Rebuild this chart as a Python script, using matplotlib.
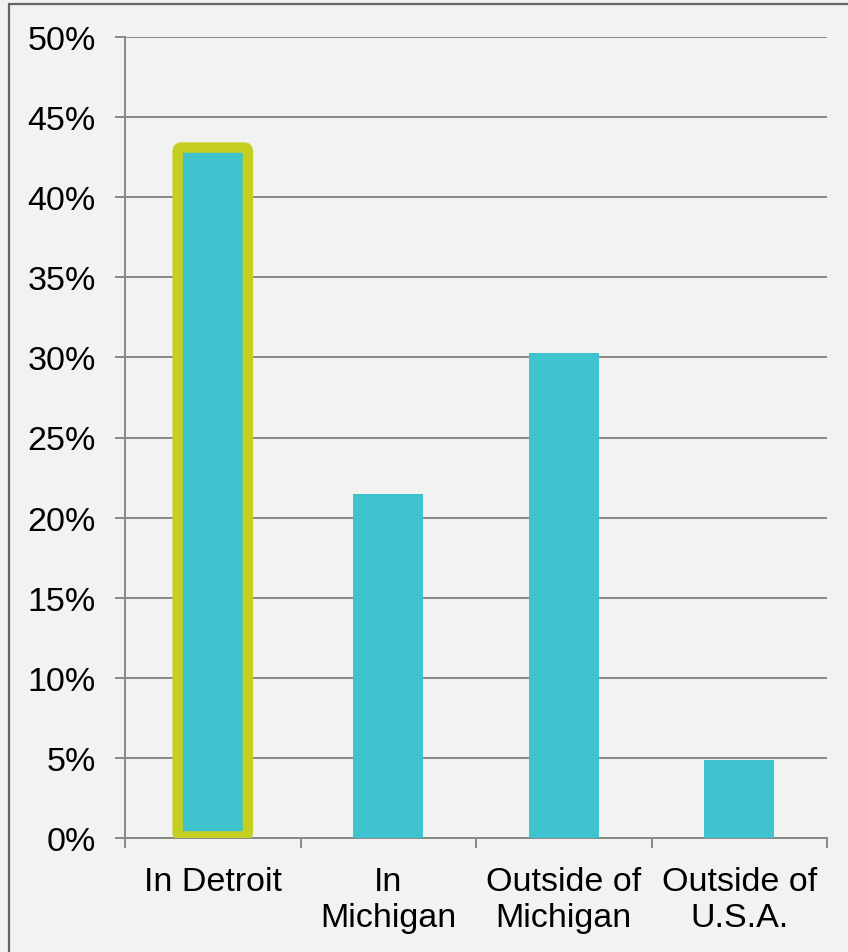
import matplotlib
matplotlib.use("Agg")
import matplotlib.pyplot as plt
from matplotlib.patches import FancyBboxPatch, Rectangle
from matplotlib.ticker import FuncFormatter, MultipleLocator

categories = ["In Detroit", "In\nMichigan", "Outside of\nMichigan", "Outside of\nU.S.A."]
values = [43.1, 21.5, 30.3, 4.9]
highlight_index = 0

plt.rcParams['font.family'] = ['Liberation Sans', 'DejaVu Sans']

bg = "#f2f2f0"
bar_color = "#3fc4cf"
hl_color = "#c4cf22"
grid_color = "#888888"

fig = plt.figure(figsize=(8.48, 9.53), dpi=100, facecolor=bg)
ax = fig.add_axes([125/848, 1-839/953, (827-125)/848, (839-38)/953])
ax.set_facecolor(bg)

x = [i + 0.5 for i in range(len(categories))]
width = 0.4
bars = ax.bar(x, values, width=width, color=bar_color, zorder=3)

# highlight outline
b = bars[highlight_index]
base = 0.1
hl = FancyBboxPatch((b.get_x(), base), b.get_width(), values[highlight_index] - base,
                    boxstyle="round,pad=0,rounding_size=0.02",
                    mutation_aspect=12,
                    fill=False, edgecolor=hl_color, linewidth=7.5, zorder=4,
                    joinstyle='round')
ax.add_patch(hl)

ax.set_xlim(0, 4)
ax.set_ylim(0, 50)
ax.yaxis.set_major_locator(MultipleLocator(5))
ax.yaxis.set_major_formatter(FuncFormatter(lambda v, p: f"{int(round(v))}%"))
ax.grid(axis='y', color=grid_color, linewidth=1.4, zorder=0)
ax.set_axisbelow(True)

ax.set_xticks(range(0, 5))
ax.set_xticklabels([])
ax.set_xticks(x, minor=True)
ax.set_xticklabels(categories, minor=True, fontsize=24.5)
ax.tick_params(axis='x', which='minor', length=0, pad=20)
ax.tick_params(axis='x', which='major', length=7, width=1.4, color=grid_color)
ax.tick_params(axis='y', length=7, width=1.4, color=grid_color, labelsize=24.5, pad=14)

for s in ['top', 'right']:
    ax.spines[s].set_visible(False)
for s in ['left', 'bottom']:
    ax.spines[s].set_color(grid_color)
    ax.spines[s].set_linewidth(1.4)

# outer frame
fig.patches.append(Rectangle((9/848, -0.05), 1.1, 1-5/953+0.05, transform=fig.transFigure,
                             fill=False, edgecolor="#666666", linewidth=1.6, zorder=10))

fig.savefig("out.png", dpi=100, facecolor=bg)
